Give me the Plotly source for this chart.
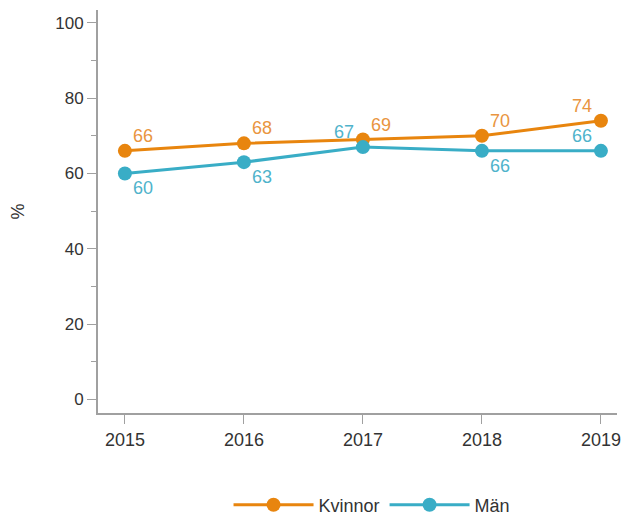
import plotly.graph_objects as go

# Andel (%) per år och kön
years = [2015, 2016, 2017, 2018, 2019]
kvinnor = [66, 68, 69, 70, 74]
man = [60, 63, 67, 66, 66]

# Placering av värdeetiketter relativt punkten
kvinnor_pos = ["top right", "top right", "top right", "top right", "top left"]
man_pos = ["bottom right", "bottom right", "top left", "bottom right", "top left"]

orange = "#E8850E"
teal = "#39ADC6"
orange_text = "#E99540"
teal_text = "#4FB3CB"
font_family = "Liberation Sans, Arial, sans-serif"
text_color = "#333333"
axis_color = "#A0A0A0"

fig = go.Figure()
fig.add_trace(go.Scatter(
    x=years, y=kvinnor, name="Kvinnor",
    mode="lines+markers",
    line=dict(color=orange, width=3),
    marker=dict(color=orange, size=14),
))
fig.add_trace(go.Scatter(
    x=years, y=man, name="Män",
    mode="lines+markers",
    line=dict(color=teal, width=3),
    marker=dict(color=teal, size=14),
))


def value_labels(xs, ys, positions, color):
    out = []
    for x, y, pos in zip(xs, ys, positions):
        up = pos.startswith("top")
        right = pos.endswith("right")
        out.append(dict(
            x=x, y=y, xref="x", yref="y", text=str(y), showarrow=False,
            xanchor="left" if right else "right", yanchor="middle",
            xshift=6 if right else -7, yshift=15 if up else -15,
            font=dict(size=18, color=color, family=font_family),
        ))
    return out


annotations = (value_labels(years, kvinnor, kvinnor_pos, orange_text)
               + value_labels(years, man, man_pos, teal_text))

fig.update_layout(
    width=621, height=518,
    margin=dict(l=98, r=0, t=10, b=105),
    paper_bgcolor="white", plot_bgcolor="white",
    font=dict(family=font_family, size=17, color=text_color),
    showlegend=True,
    annotations=annotations,
    legend=dict(
        orientation="h", x=0.528, xanchor="center",
        yref="container", y=0.025, yanchor="middle",
        font=dict(size=18, color=text_color), itemwidth=80,
    ),
    xaxis=dict(
        range=[2014.774, 2019.135],
        tickmode="array", tickvals=years, ticktext=[str(y) for y in years],
        showgrid=False, zeroline=False,
        showline=True, linecolor=axis_color, linewidth=2,
        ticks="outside", ticklen=9, tickcolor=axis_color, tickwidth=1,
        tickfont=dict(size=18, color=text_color),
        ticklabeloverflow="allow",
    ),
    yaxis=dict(
        range=[-3.6, 103.4],
        tickvals=[0, 20, 40, 60, 80, 100],
        showgrid=False, zeroline=False,
        showline=True, linecolor=axis_color, linewidth=2,
        ticks="outside", ticklen=9, tickcolor=axis_color, tickwidth=1,
        tickfont=dict(size=17, color=text_color),
        minor=dict(tickvals=[10, 30, 50, 70, 90], ticks="outside",
                   ticklen=5, tickcolor=axis_color),
        title=dict(text="%", standoff=26, font=dict(size=18, color=text_color)),
    ),
)

fig.write_html("out.html")
